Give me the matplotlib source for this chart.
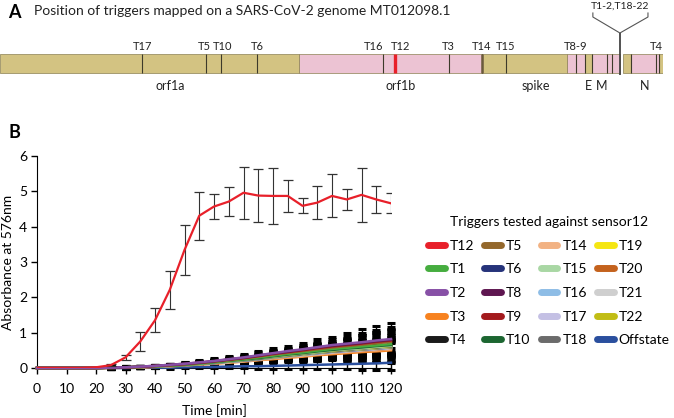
import numpy as np
import matplotlib
matplotlib.use('Agg')
import matplotlib.pyplot as plt
from matplotlib.lines import Line2D

plt.rcParams['font.family'] = ['Lato', 'DejaVu Sans']

# ---- panel A data (genome positions in nt) ----
genome_len = 29903
seg_start = [0, 13468, 21730, 25570, 26380, 26700, 27370, 27600, 28100, 28460, 29720]
seg_end = [13468, 21730, 25570, 26380, 26700, 27370, 27600, 27960, 28460, 29720, 29903]
seg_kind = ['tan', 'pink', 'tan', 'pink', 'tan', 'pink', 'pink', 'pink', 'tan', 'pink', 'tan']

trig_pos = [6414, 9305, 9983, 11609, 17255, 20236, 21727, 22811, 25973, 29586]
trig_name = ['T17', 'T5', 'T10', 'T6', 'T16', 'T3', 'T14', 'T15', 'T8-9', 'T4']
trig_label_pos = [6414, 9200, 10050, 11609, 16850, 20236, 21727, 22811, 25973, 29586]
extra_lines = [26380, 26700, 27373, 27599, 28460, 29722]
t12_pos = 17797
t12_label_pos = 18070
cluster_pos = 27960
cluster_name = 'T1-2,T18-22'
gene_name = ['orf1a', 'orf1b', 'spike', 'E', 'M', 'N']
gene_pos = [7680, 18070, 24170, 26520, 27130, 29090]

# ---- panel B data ----
time = [0, 5, 10, 15, 20, 25, 30, 35, 40, 45, 50, 55, 60, 65, 70, 75, 80, 85, 90, 95, 100, 105, 110, 115, 120]

t12 = [0, 0, 0, 0, 0.02, 0.08, 0.30, 0.75, 1.35, 2.21, 3.34, 4.31, 4.57, 4.71, 4.96, 4.88, 4.87, 4.87, 4.59, 4.68, 4.87, 4.77, 4.90, 4.77, 4.66]
t12_err = [0, 0, 0, 0, 0, 0.02, 0.06, 0.28, 0.34, 0.54, 0.70, 0.68, 0.36, 0.40, 0.73, 0.74, 0.80, 0.46, 0.21, 0.46, 0.61, 0.29, 0.76, 0.37, 0.28]

low = {
    'T1': [0, 0, 0, 0, 0, 0.01, 0.02, 0.03, 0.05, 0.07, 0.10, 0.13, 0.17, 0.21, 0.25, 0.30, 0.35, 0.40, 0.44, 0.49, 0.54, 0.57, 0.61, 0.64, 0.68],
    'T2': [0, 0, 0, 0, 0, 0.01, 0.02, 0.04, 0.06, 0.09, 0.12, 0.16, 0.20, 0.25, 0.30, 0.36, 0.42, 0.48, 0.53, 0.59, 0.65, 0.69, 0.73, 0.78, 0.82],
    'T3': [0, 0, 0, 0, 0, 0.00, 0.01, 0.02, 0.03, 0.05, 0.07, 0.10, 0.12, 0.15, 0.18, 0.22, 0.25, 0.29, 0.32, 0.36, 0.39, 0.42, 0.45, 0.47, 0.50],
    'T4': [0, 0, 0, 0, 0, 0.01, 0.02, 0.03, 0.05, 0.07, 0.09, 0.12, 0.15, 0.19, 0.23, 0.27, 0.32, 0.36, 0.40, 0.45, 0.49, 0.52, 0.56, 0.59, 0.62],
    'T5': [0, 0, 0, 0, 0, 0.01, 0.02, 0.03, 0.05, 0.08, 0.11, 0.14, 0.18, 0.22, 0.27, 0.32, 0.38, 0.43, 0.48, 0.53, 0.58, 0.62, 0.66, 0.70, 0.74],
    'T6': [0, 0, 0, 0, 0, 0.01, 0.01, 0.03, 0.04, 0.06, 0.08, 0.11, 0.14, 0.18, 0.21, 0.25, 0.30, 0.34, 0.38, 0.42, 0.46, 0.49, 0.52, 0.55, 0.58],
    'T8': [0, 0, 0, 0, 0, 0.01, 0.02, 0.04, 0.06, 0.09, 0.12, 0.15, 0.19, 0.24, 0.29, 0.35, 0.41, 0.46, 0.52, 0.58, 0.63, 0.67, 0.71, 0.76, 0.80],
    'T9': [0, 0, 0, 0, 0, 0.01, 0.02, 0.03, 0.06, 0.08, 0.11, 0.15, 0.19, 0.24, 0.28, 0.34, 0.40, 0.45, 0.50, 0.56, 0.61, 0.65, 0.69, 0.74, 0.78],
    'T10': [0, 0, 0, 0, 0, 0.01, 0.02, 0.03, 0.05, 0.07, 0.09, 0.13, 0.16, 0.20, 0.24, 0.28, 0.33, 0.38, 0.42, 0.47, 0.51, 0.55, 0.58, 0.62, 0.65],
    'T14': [0, 0, 0, 0, 0, 0.01, 0.01, 0.02, 0.04, 0.05, 0.08, 0.10, 0.13, 0.16, 0.19, 0.23, 0.27, 0.31, 0.34, 0.38, 0.42, 0.45, 0.48, 0.50, 0.53],
    'T15': [0, 0, 0, 0, 0, 0.01, 0.02, 0.03, 0.05, 0.07, 0.09, 0.12, 0.15, 0.19, 0.23, 0.28, 0.32, 0.37, 0.41, 0.45, 0.50, 0.53, 0.56, 0.60, 0.63],
    'T16': [0, 0, 0, 0, 0, 0.01, 0.02, 0.03, 0.04, 0.06, 0.09, 0.12, 0.15, 0.18, 0.22, 0.26, 0.31, 0.35, 0.39, 0.43, 0.48, 0.51, 0.54, 0.57, 0.60],
    'T17': [0, 0, 0, 0, 0, 0.01, 0.01, 0.03, 0.04, 0.06, 0.08, 0.11, 0.14, 0.17, 0.21, 0.25, 0.29, 0.33, 0.37, 0.41, 0.45, 0.48, 0.51, 0.54, 0.57],
    'T18': [0, 0, 0, 0, 0, 0.01, 0.02, 0.03, 0.05, 0.06, 0.09, 0.12, 0.15, 0.19, 0.22, 0.27, 0.31, 0.36, 0.40, 0.44, 0.48, 0.52, 0.55, 0.58, 0.61],
    'T19': [0, 0, 0, 0, 0, 0.01, 0.02, 0.03, 0.04, 0.06, 0.09, 0.11, 0.15, 0.18, 0.22, 0.26, 0.30, 0.35, 0.38, 0.43, 0.47, 0.50, 0.53, 0.56, 0.59],
    'T20': [0, 0, 0, 0, 0, 0.01, 0.01, 0.02, 0.04, 0.06, 0.08, 0.11, 0.13, 0.17, 0.20, 0.24, 0.28, 0.32, 0.36, 0.40, 0.44, 0.47, 0.49, 0.52, 0.55],
    'T21': [0, 0, 0, 0, 0, 0.01, 0.01, 0.03, 0.04, 0.06, 0.08, 0.11, 0.14, 0.17, 0.20, 0.24, 0.29, 0.33, 0.36, 0.40, 0.44, 0.47, 0.50, 0.53, 0.56],
    'T22': [0, 0, 0, 0, 0, 0.01, 0.02, 0.03, 0.05, 0.07, 0.09, 0.12, 0.16, 0.19, 0.23, 0.28, 0.32, 0.36, 0.41, 0.45, 0.49, 0.53, 0.56, 0.59, 0.62],
    'Offstate': [0, 0, 0, 0, 0, 0, 0, 0.01, 0.01, 0.01, 0.02, 0.03, 0.03, 0.04, 0.05, 0.05, 0.06, 0.07, 0.08, 0.09, 0.10, 0.11, 0.12, 0.13, 0.15],
}

err_large = [0, 0, 0, 0, 0, 0.04, 0.04, 0.03, 0.03, 0.03, 0.04, 0.06, 0.07, 0.08, 0.10, 0.11, 0.15, 0.14, 0.19, 0.23, 0.23, 0.31, 0.37, 0.42, 0.46]
err_mid = [0, 0, 0, 0, 0, 0.03, 0.03, 0.03, 0.03, 0.03, 0.04, 0.05, 0.06, 0.07, 0.08, 0.09, 0.11, 0.12, 0.14, 0.17, 0.19, 0.23, 0.27, 0.31, 0.35]
err_small = [0, 0, 0, 0, 0, 0.02, 0.02, 0.02, 0.02, 0.03, 0.03, 0.04, 0.04, 0.05, 0.06, 0.07, 0.08, 0.09, 0.10, 0.12, 0.13, 0.15, 0.17, 0.19, 0.21]
err_group = {'T2': err_large, 'T4': err_large, 'T18': err_large,
             'T8': err_mid, 'T5': err_mid, 'T10': err_mid, 'T21': err_mid, 'T6': err_mid}

colors = {
    'T12': '#e8202a', 'T1': '#46ad3f', 'T2': '#8750a6', 'T3': '#f7821f', 'T4': '#1a1a1a',
    'T5': '#94682c', 'T6': '#26337a', 'T8': '#5e1650', 'T9': '#a31a1d', 'T10': '#1c6631',
    'T14': '#f2b283', 'T15': '#a9d7a4', 'T16': '#8ebde6', 'T17': '#c4c0e4', 'T18': '#6b6b6b',
    'T19': '#f5e612', 'T20': '#c4621d', 'T21': '#cfcfcf', 'T22': '#c1bd15', 'Offstate': '#2a4f9e',
}
legend_order = ['T12', 'T1', 'T2', 'T3', 'T4', 'T5', 'T6', 'T8', 'T9', 'T10',
                'T14', 'T15', 'T16', 'T17', 'T18', 'T19', 'T20', 'T21', 'T22', 'Offstate']
draw_order = ['Offstate', 'T3', 'T14', 'T20', 'T21', 'T17', 'T6', 'T19', 'T16', 'T18',
              'T4', 'T22', 'T15', 'T10', 'T1', 'T5', 'T9', 'T8', 'T2']

W, H = 674, 418
fig = plt.figure(figsize=(W / 100, H / 100), dpi=100)

# ---------------- panel A ----------------
axa = fig.add_axes([0, 1 - 110 / H, 663 / W, 110 / H])
axa.set_xlim(0, genome_len)
axa.set_ylim(110, 0)
axa.axis('off')

fills = {'tan': '#d3c382', 'pink': '#ecc3d3'}
axa.broken_barh([(s, e - s) for s, e in zip(seg_start, seg_end)], (54, 19),
                facecolors=[fills[k] for k in seg_kind], edgecolor='#8c8152', linewidth=0.5)
axa.vlines(trig_pos + extra_lines, 54, 73, colors='#3d3a2a', linewidth=0.8)
axa.vlines([21727], 54, 73, colors='#6b5a3c', linewidth=1.8)
axa.vlines([t12_pos], 54, 73, colors='#e8202a', linewidth=2.4)
for p, n in zip(trig_label_pos, trig_name):
    axa.text(p, 47, n, ha='center', va='center', fontsize=8, color='#222222')
axa.text(t12_label_pos, 47, 'T12', ha='center', va='center', fontsize=8, color='#222222')
for p, n in zip(gene_pos, gene_name):
    axa.text(p, 86, n, ha='center', va='center', fontsize=9, color='#222222')

# bracket for the clustered triggers
left_end, right_end = 26740, 29225
axa.plot([left_end, left_end, cluster_pos, right_end, right_end], [13, 17, 33, 17, 13],
         color='#555555', linewidth=0.8)
axa.vlines([cluster_pos], 33, 75, colors='#444444', linewidth=1.3)
axa.text(cluster_pos, 6, cluster_name, ha='center', va='center', fontsize=7.5, color='#222222')

fig.text(8 / W, 1 - 12 / H, 'A', fontsize=13, fontweight='bold', va='center', ha='left')
fig.text(34 / W, 1 - 11 / H, 'Position of triggers mapped on a SARS-CoV-2 genome MT012098.1',
         fontsize=10, va='center', ha='left', color='#222222')

# ---------------- panel B ----------------
fig.text(8 / W, 1 - 133 / H, 'B', fontsize=13, fontweight='bold', va='center', ha='left')
ax = fig.add_axes([37 / W, 50 / H, 354 / W, 212 / H])

for name in draw_order:
    e = err_group.get(name, err_small)
    ax.errorbar(time, low[name], yerr=e, fmt='none', ecolor='black', elinewidth=1.0,
                capsize=3, capthick=2.2, errorevery=(5, 1), zorder=2, clip_on=False)
for name in draw_order:
    ax.plot(time, low[name], color=colors[name], linewidth=1.8, zorder=3, clip_on=False)

ax.errorbar(time, t12, yerr=t12_err, fmt='none', ecolor='#333333', elinewidth=0.8,
            capsize=3.5, capthick=0.9, errorevery=(5, 1), zorder=4)
ax.plot(time, t12, color=colors['T12'], linewidth=1.6, zorder=5)

ax.set_xlim(0, 120)
ax.set_ylim(0, 6)
ax.set_xticks(range(0, 121, 10))
ax.set_yticks(range(0, 7))
ax.spines['top'].set_visible(False)
ax.spines['right'].set_visible(False)
ax.tick_params(direction='out', length=4, width=1, labelsize=10)
ax.tick_params(axis='x', pad=7)
ax.tick_params(axis='y', pad=3)
ax.set_xlabel('Time [min]', fontsize=10, labelpad=6)
ax.set_ylabel('Absorbance at 576nm', fontsize=10, labelpad=4)

handles = [Line2D([0], [0], color=colors[n], linewidth=5, solid_capstyle='round') for n in legend_order]
leg = fig.legend(handles, legend_order, loc='upper left', bbox_to_anchor=(428 / W, 1 - 216 / H),
                 ncol=4, frameon=False, fontsize=10, title='Triggers tested against sensor12',
                 title_fontsize=10, handlelength=1.2, handletextpad=0.35, columnspacing=0.75,
                 labelspacing=0.84, borderpad=0, borderaxespad=0)

fig.savefig('out.png', dpi=100)
